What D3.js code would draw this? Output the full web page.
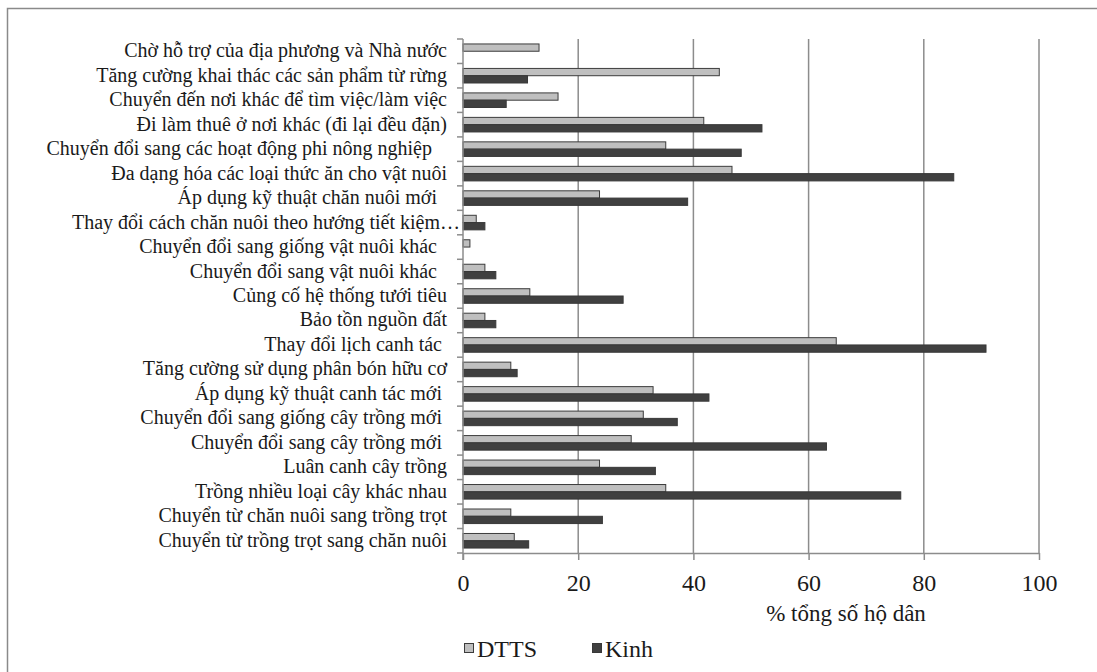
<!DOCTYPE html>
<html><head><meta charset="utf-8">
<script src="https://cdn.jsdelivr.net/npm/d3@7"></script>
<style>body{margin:0;background:#fff} text{white-space:pre}</style>
</head><body><svg id="c" width="1097" height="672"></svg>
<script>
const categories = [
  "Chờ hỗ trợ của địa phương và Nhà nước",
  "Tăng cường khai thác các sản phẩm từ rừng",
  "Chuyển đến nơi khác để tìm việc/làm việc",
  "Đi làm thuê ở nơi khác (đi lại đều đặn)",
  "Chuyển đổi sang các hoạt động phi nông nghiệp   ",
  "Đa dạng hóa các loại thức ăn cho vật nuôi",
  "Áp dụng kỹ thuật chăn nuôi mới  ",
  "Thay đổi cách chăn nuôi theo hướng tiết kiệm…",
  "Chuyển đổi sang giống vật nuôi khác  ",
  "Chuyển đổi sang vật nuôi khác  ",
  "Củng cố hệ thống tưới tiêu",
  "Bảo tồn nguồn đất",
  "Thay đổi lịch canh tác ",
  "Tăng cường sử dụng phân bón hữu cơ",
  "Áp dụng kỹ thuật canh tác mới ",
  "Chuyển đổi sang giống cây trồng mới ",
  "Chuyển đổi sang cây trồng mới ",
  "Luân canh cây trồng",
  "Trồng nhiều loại cây khác nhau",
  "Chuyển từ chăn nuôi sang trồng trọt",
  "Chuyển từ trồng trọt sang chăn nuôi"
];
const seriesNames = ["DTTS", "Kinh"];
const dttsValues = [13.2, 44.5, 16.5, 41.8, 35.2, 46.7, 23.7, 2.3, 1.2, 3.8, 11.6, 3.8, 64.8, 8.3, 33.0, 31.3, 29.2, 23.7, 35.2, 8.3, 8.9];
const kinhValues = [null, 11.2, 7.5, 51.9, 48.3, 85.2, 39.0, 3.8, null, 5.7, 27.8, 5.7, 90.8, 9.4, 42.7, 37.2, 63.1, 33.4, 76.0, 24.2, 11.4];
const xTicks = [0, 20, 40, 60, 80, 100];
const xTitle = "% tổng số hộ dân";

const colors = {DTTS: "#bfbfbf", Kinh: "#404040"};
const strokes = {DTTS: "#3c3c3c", Kinh: "#383838"};
const font = "Liberation Serif";

const svg = d3.select("#c");
const pLeft = 463, pRight = 1039, pTop = 39, pBottom = 553;

// outer frame
svg.append("rect").attr("x", 7.5).attr("y", 8.5).attr("width", 1200).attr("height", 800)
  .attr("fill", "none").attr("stroke", "#8a8a8a").attr("stroke-width", 1.5);

const x = d3.scaleLinear().domain([0, 100]).range([pLeft, pRight]);
const y = d3.scaleBand().domain(categories).range([pTop, pBottom]).padding(0);
const ySub = d3.scaleBand().domain(seriesNames).range([0, y.bandwidth()]).paddingInner(0).paddingOuter(0.68);

// gridlines
svg.append("g").selectAll("line").data(xTicks.slice(1)).join("line")
  .attr("x1", d => x(d)).attr("x2", d => x(d)).attr("y1", pTop).attr("y2", pBottom)
  .attr("stroke", "#8c8c8c").attr("stroke-width", 1.5);

// bars
const rows = categories.map((c, i) => ({c, DTTS: dttsValues[i], Kinh: kinhValues[i]}));
const g = svg.append("g");
rows.forEach(r => {
  seriesNames.forEach(s => {
    if (r[s] == null) return;
    g.append("rect")
      .attr("x", x(0))
      .attr("y", y(r.c) + ySub(s))
      .attr("width", x(r[s]) - x(0))
      .attr("height", ySub.bandwidth())
      .attr("fill", colors[s])
      .attr("stroke", strokes[s]).attr("stroke-width", 1);
  });
});

// y axis
svg.append("line").attr("x1", pLeft).attr("x2", pLeft).attr("y1", pTop).attr("y2", pBottom + 7)
  .attr("stroke", "#8c8c8c").attr("stroke-width", 1.5);
const bounds = categories.map(c => y(c)).concat([pBottom]);
svg.append("g").selectAll("line").data(bounds).join("line")
  .attr("x1", pLeft - 6).attr("x2", pLeft).attr("y1", d => d).attr("y2", d => d)
  .attr("stroke", "#8c8c8c").attr("stroke-width", 1.5);
svg.append("g").selectAll("text").data(categories).join("text")
  .attr("x", d => d.endsWith("…") ? pLeft - 3 : 447)
  .attr("y", d => y(d) + y.bandwidth() / 2)
  .attr("dy", "0.3em")
  .attr("text-anchor", "end")
  .style("font-family", font).style("font-size", "20px").style("fill", "#1a1a1a")
  .text(d => d);

// x axis
const xAxis = svg.append("g").attr("transform", `translate(0,${pBottom})`)
  .call(d3.axisBottom(x).tickValues(xTicks).tickSize(7).tickSizeOuter(0).tickPadding(14));
xAxis.select(".domain").attr("stroke", "#8c8c8c").attr("stroke-width", 1.5);
xAxis.selectAll(".tick line").attr("stroke", "#8c8c8c").attr("stroke-width", 1.5);
xAxis.selectAll(".tick text").style("font-family", font).style("font-size", "24px").style("fill", "#1a1a1a");

svg.append("text").attr("x", 846).attr("y", 621).attr("text-anchor", "middle")
  .style("font-family", font).style("font-size", "23px").style("fill", "#1a1a1a").text(xTitle);

// legend
const legX = [464, 592];
seriesNames.forEach((s, i) => {
  svg.append("rect").attr("x", legX[i] + 0.5).attr("y", 643.5).attr("width", 9).attr("height", 9)
    .attr("fill", colors[s]).attr("stroke", strokes[s]);
  svg.append("text").attr("x", legX[i] + 13).attr("y", 657)
    .style("font-family", font).style("font-size", "24px").style("fill", "#1a1a1a").text(s);
});
</script></body></html>
